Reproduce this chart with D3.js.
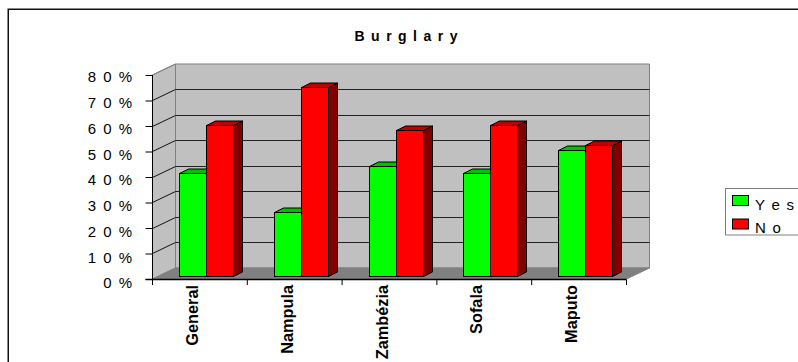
<!DOCTYPE html>
<html><head><meta charset="utf-8">
<script src="https://cdn.jsdelivr.net/npm/d3@7/dist/d3.min.js"></script>
<style>html,body{margin:0;padding:0;background:#fff}svg{display:block}text{font-family:"Liberation Sans",Arial,sans-serif}</style>
</head><body><svg id="c" width="798" height="362"></svg>
<script>
const title = "B u r g l a r y";
const categories = ["General","Nampula","Zambézia","Sofala","Maputo"];
const yesValues = [40.2,25,43.1,40.3,49.4];
const noValues = [59.3,74,57.2,59.3,51.4];
const yTicks = [0,10,20,30,40,50,60,70,80];
const yLabels = ["0 %","1 0 %","2 0 %","3 0 %","4 0 %","5 0 %","6 0 %","7 0 %","8 0 %"];
const seriesNames = ["Y e s","N o"];

const svg = d3.select("#c");
const x = d3.scaleBand().domain(categories).range([152.5,626.5]);
const y = d3.scaleLinear().domain([0,80]).range([279,75]);
const dx = 23, dy = -11;
const bx = 9, by = -4.5, bo = 3;
const groupPad = 27, barW = 27;
const ln = (a,b,c,d,s,w=1)=>svg.append("line").attr("x1",a).attr("y1",b).attr("x2",c).attr("y2",d).attr("stroke",s).attr("stroke-width",w);
const snap = v=>Math.floor(v)+0.5;

svg.append("rect").attr("x",8.25).attr("y",9.25).attr("width",800).attr("height",400).attr("fill","#fff").attr("stroke","#111").attr("stroke-width",1.5);

const x0=x.range()[0], x1=x.range()[1];
// walls
svg.append("polygon").attr("points",[[x0+dx,y(80)+dy],[x1+dx,y(80)+dy],[x1+dx,y(0)+dy],[x0+dx,y(0)+dy]].join(" ")).attr("fill","#c0c0c0").attr("stroke","#808080");
svg.append("polygon").attr("points",[[x0,y(80)],[x0+dx,y(80)+dy],[x0+dx,y(0)+dy],[x0,y(0)]].join(" ")).attr("fill","#c0c0c0").attr("stroke","#808080");
svg.append("polygon").attr("points",[[x0,y(0)],[x0+dx,y(0)+dy],[x1+dx,y(0)+dy],[x1,y(0)]].join(" ")).attr("fill","#808080").attr("stroke","#808080");
// gridlines
yTicks.filter(t=>t>0&&t<80).forEach(t=>{
  const gy0=snap(y(t));
  ln(x0,gy0,x0+dx,gy0+dy,"#111");
  ln(x0+dx,gy0+dy,x1+dx,gy0+dy,"#222");
});
ln(x0,y(80),x0+dx,y(80)+dy,"#808080");
// y axis
const yAxis = d3.axisLeft(y).tickValues(yTicks).tickSize(7).tickPadding(13.5).tickFormat((d,i)=>yLabels[i]);
const gy = svg.append("g").attr("transform",`translate(${x0},0)`).call(yAxis);
gy.selectAll("path").attr("stroke","#000").attr("d",`M0,${y(80)}V${y(0)}`);
gy.selectAll("line").attr("stroke","#000");
gy.selectAll("text").attr("font-size",15).attr("fill","#000").attr("word-spacing",3)
  .attr("transform",d=>`translate(0,${2+(80-d)/40})`);
// x axis
const gx = svg.append("g").attr("transform",`translate(0,${y(0)+0.5})`);
gx.append("line").attr("x1",x0-7).attr("x2",x1).attr("stroke","#000").attr("stroke-width",1.5);
d3.range(categories.length+1).forEach(i=>{
  const p=x0+i*x.step();
  gx.append("line").attr("x1",p).attr("x2",p).attr("y1",0).attr("y2",5.5).attr("stroke","#000");
});
categories.forEach(c=>{
  gx.append("text").attr("transform",`translate(${x(c)+45.5},5.5) rotate(-90)`).attr("text-anchor","end")
    .attr("font-size",16.3).attr("font-weight","bold").attr("fill","#000").text(c);
});
// bars
function bar(px,v,front,top,side){
  const yb=y(0)-bo+0.5, ty=snap(yb-(y(0)-y(v)));
  svg.append("polygon").attr("points",[[px+barW,ty],[px+barW+bx,ty+by],[px+barW+bx,yb+by],[px+barW,yb]].join(" ")).attr("fill",side).attr("stroke","#000");
  svg.append("polygon").attr("points",[[px,ty],[px+bx,ty+by],[px+barW+bx,ty+by],[px+barW,ty]].join(" ")).attr("fill",top).attr("stroke","#000");
  svg.append("rect").attr("x",px).attr("y",ty).attr("width",barW).attr("height",yb-ty).attr("fill",front).attr("stroke","#000");
}
categories.forEach((c,i)=>{
  const p=snap(x(c)+groupPad);
  bar(p,yesValues[i],"#00ff00","#00c000","#008000");
  bar(p+barW,noValues[i],"#ff0000","#c00000","#800000");
});
// title
svg.append("text").attr("x",406).attr("y",41).attr("text-anchor","middle").attr("font-size",14).attr("font-weight","bold").attr("word-spacing",2.6).attr("fill","#000").text(title);
// legend
svg.append("rect").attr("x",725.5).attr("y",188.5).attr("width",100).attr("height",46.5).attr("fill","#fff").attr("stroke","#808080");
[["#00ff00",0],["#ff0000",1]].forEach(([col,i])=>{
  const ly=195.5+i*23.5;
  svg.append("rect").attr("x",732.5).attr("y",ly).attr("width",16).attr("height",10).attr("fill",col).attr("stroke","#000");
  svg.append("text").attr("x",755).attr("y",210+i*22.5).attr("font-size",15).attr("word-spacing",2.5).attr("fill","#000").text(seriesNames[i]);
});
</script></body></html>
